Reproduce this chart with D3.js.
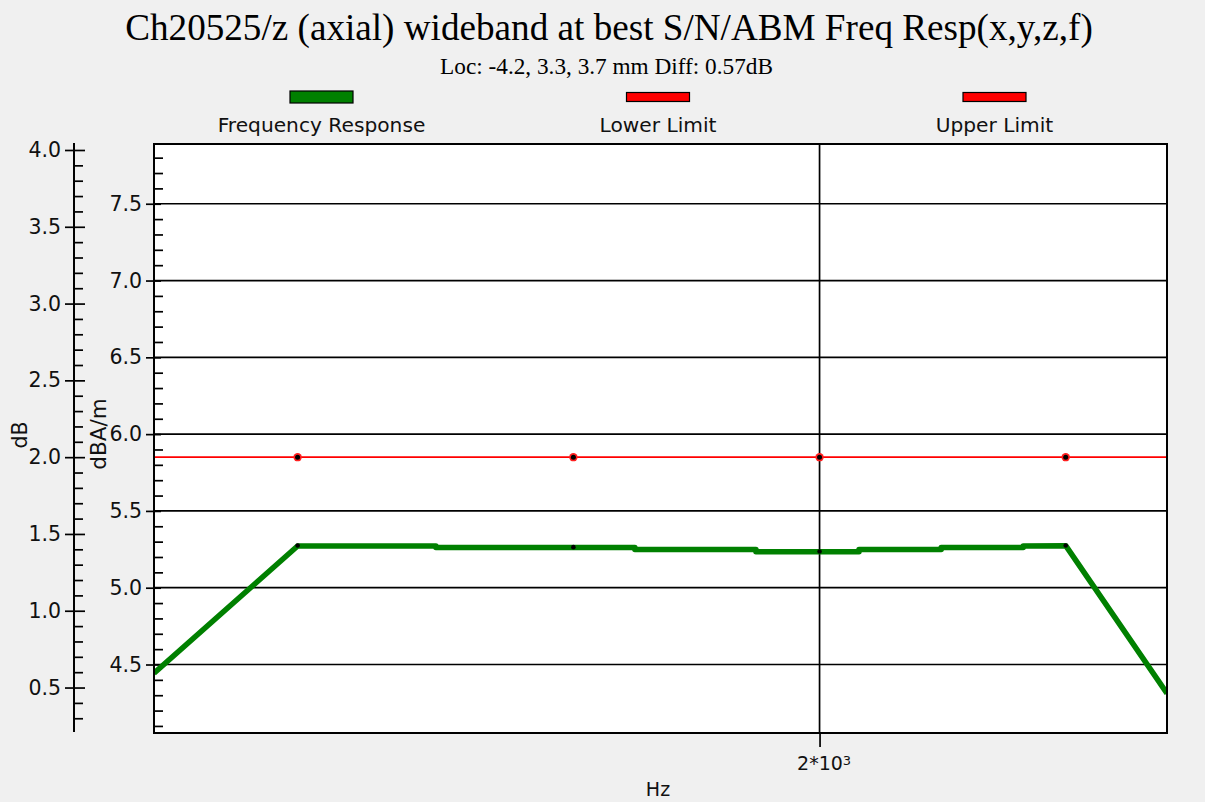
<!DOCTYPE html>
<html><head><meta charset="utf-8">
<script src="https://cdn.jsdelivr.net/npm/d3@7"></script>
<style>body{margin:0;background:#f0f0f0;} svg{display:block}</style>
</head><body><svg id="c" width="1205" height="802"></svg>
<script>
// ---- data ----
const titleText = "Ch20525/z (axial) wideband at best S/N/ABM Freq Resp(x,y,z,f)";
const subtitleText = "Loc: -4.2, 3.3, 3.7 mm Diff: 0.57dB";
const legendLabels = ["Frequency Response", "Lower Limit", "Upper Limit"];
const legendColors = ["#008000", "#ff0000", "#ff0000"];

// Frequency response (Hz, dBA/m)
const respFreq = [307, 460, 679, 679, 1189, 1189, 1672, 1672, 2235, 2235, 2817, 2817, 3549, 3549, 4000, 5320];
const respVal  = [4.443, 5.272, 5.272, 5.262, 5.262, 5.248, 5.248, 5.234, 5.234, 5.248, 5.248, 5.262, 5.262, 5.272, 5.274, 4.312];
// Lower limit (Hz, dBA/m)
const limitFreq = [300, 460, 1000, 2000, 4000, 5400];
const lowerLimitVal = [5.85, 5.85, 5.85, 5.85, 5.85, 5.85];
const markerFreq = [460, 1000, 2000, 4000];
const respMarkerVal = [5.275, 5.264, 5.236, 5.275];

const xTickVals = [2000];
const yInnerMajor = [4.5, 5.0, 5.5, 6.0, 6.5, 7.0, 7.5];
const yOuterMajor = [0.5, 1.0, 1.5, 2.0, 2.5, 3.0, 3.5, 4.0];
const dbOffset = 3.85; // dBA/m - dB

// ---- layout ----
const svg = d3.select("#c");
const L = 154, R = 1167, T = 144, B = 733;
const x = d3.scaleLog().domain([307, 5320]).range([L, R]);
const y = d3.scaleLinear().domain([4.054, 7.889]).range([B, T]);
const yOuter = d3.scaleLinear().domain([4.054 - dbOffset, 7.889 - dbOffset]).range([B, T]);
const sans = "DejaVu Sans";
const txtCol = "#111";

// title
function fitText(sel, width) {
  const w = sel.node().getComputedTextLength();
  const fs = parseFloat(sel.attr("font-size"));
  sel.attr("font-size", fs * width / w);
}
const t = svg.append("text").attr("x", 609).attr("y", 40).attr("text-anchor", "middle")
  .attr("font-family", "Liberation Serif").attr("font-size", 34).attr("fill", "#000").text(titleText);
fitText(t, 968);
const st = svg.append("text").attr("x", 606.5).attr("y", 74).attr("text-anchor", "middle")
  .attr("font-family", "Liberation Serif").attr("font-size", 16).attr("fill", "#000").text(subtitleText);
fitText(st, 333);

// legend
const legCx = [321.5, 658, 994.5];
legendLabels.forEach((lab, i) => {
  const thick = i === 0 ? 12 : 9;
  svg.append("rect").attr("x", legCx[i] - 31.5).attr("y", 97 - thick / 2).attr("width", 63).attr("height", thick)
    .attr("fill", legendColors[i]).attr("stroke", "#000").attr("stroke-width", 1.2);
  svg.append("text").attr("x", legCx[i]).attr("y", 132).attr("text-anchor", "middle")
    .attr("font-family", sans).attr("font-size", 20.2).attr("fill", txtCol).text(lab);
});

// plot area
svg.append("rect").attr("x", L).attr("y", T).attr("width", R - L).attr("height", B - T).attr("fill", "#fff");
svg.append("clipPath").attr("id", "clip").append("rect").attr("x", L).attr("y", T).attr("width", R - L).attr("height", B - T);

// gridlines
svg.append("g").selectAll("line").data(yInnerMajor).join("line")
  .attr("x1", L).attr("x2", R).attr("y1", d => y(d)).attr("y2", d => y(d))
  .attr("stroke", "#000").attr("stroke-width", 1.7);
svg.append("g").selectAll("line").data(xTickVals).join("line")
  .attr("x1", d => x(d)).attr("x2", d => x(d)).attr("y1", T).attr("y2", B)
  .attr("stroke", "#000").attr("stroke-width", 1.7);

// inner (dBA/m) axis
const innerMinor = d3.range(41, 79).map(v => v / 10).filter(v => !yInnerMajor.some(m => Math.abs(m - v) < 1e-6));
function styleAxis(g) {
  g.select(".domain").remove();
  g.selectAll(".tick line").attr("stroke", "#000").attr("stroke-width", 1.7);
  g.selectAll(".tick text").attr("font-family", sans).attr("font-size", 20.5).attr("fill", txtCol);
}
svg.append("g").attr("transform", `translate(${L},0)`)
  .call(d3.axisLeft(y).tickValues(yInnerMajor).tickSize(8).tickPadding(4).tickFormat(d3.format(".1f"))).call(styleAxis);
svg.append("g").attr("transform", `translate(${L},0)`)
  .call(d3.axisRight(y).tickValues(yInnerMajor).tickSize(7).tickFormat("")).call(styleAxis);
svg.append("g").attr("transform", `translate(${L},0)`)
  .call(d3.axisRight(y).tickValues(innerMinor).tickSize(9).tickFormat("")).call(styleAxis);

// outer (dB) axis
const OX = 74;
const outerMinor = d3.range(3, 41).map(v => v / 10).filter(v => !yOuterMajor.some(m => Math.abs(m - v) < 1e-6));
svg.append("line").attr("x1", OX).attr("x2", OX).attr("y1", T - 1).attr("y2", B - 1).attr("stroke", "#000").attr("stroke-width", 2);
svg.append("g").attr("transform", `translate(${OX},0)`)
  .call(d3.axisLeft(yOuter).tickValues(yOuterMajor).tickSize(9).tickPadding(4).tickFormat(d3.format(".1f"))).call(styleAxis);
svg.append("g").attr("transform", `translate(${OX},0)`)
  .call(d3.axisRight(yOuter).tickValues(yOuterMajor).tickSize(11).tickFormat("")).call(styleAxis);
svg.append("g").attr("transform", `translate(${OX},0)`)
  .call(d3.axisRight(yOuter).tickValues(outerMinor).tickSize(9).tickFormat("")).call(styleAxis);

// x axis tick
const xa = svg.append("g").attr("transform", `translate(0,${B})`)
  .call(d3.axisBottom(x).tickValues(xTickVals).tickSize(14).tickPadding(10).tickFormat(() => ""));
xa.select(".domain").remove();
xa.selectAll(".tick line").attr("stroke", "#000").attr("stroke-width", 1.7);
const xt = xa.selectAll(".tick text").attr("font-family", sans).attr("font-size", 19).attr("fill", txtCol)
  .attr("text-anchor", "middle").attr("dx", 4);
xt.append("tspan").text(d => d / 1000 + "*10");
xt.append("tspan").attr("font-size", 13).attr("dy", "-0.45em").text("3");

// axis titles
svg.append("text").attr("transform", "translate(27,435) rotate(-90)").attr("text-anchor", "middle")
  .attr("font-family", sans).attr("font-size", 20.5).attr("fill", txtCol).text("dB");
svg.append("text").attr("transform", "translate(106,434) rotate(-90)").attr("text-anchor", "middle")
  .attr("font-family", sans).attr("font-size", 21.5).attr("fill", txtCol).text("dBA/m");
svg.append("text").attr("x", 658).attr("y", 796).attr("text-anchor", "middle")
  .attr("font-family", sans).attr("font-size", 19).attr("fill", txtCol).text("Hz");

// data
const plot = svg.append("g").attr("clip-path", "url(#clip)");
const line = d3.line().x(d => x(d[0])).y(d => y(d[1]));
plot.append("path").datum(limitFreq.map((f, i) => [f, lowerLimitVal[i]])).attr("d", line)
  .attr("fill", "none").attr("stroke", "#ff0000").attr("stroke-width", 1.6);
plot.append("path").datum(respFreq.map((f, i) => [f, respVal[i]])).attr("d", line)
  .attr("fill", "none").attr("stroke", "#008000").attr("stroke-width", 5.5).attr("stroke-linejoin", "round");
plot.selectAll(".lm").data(markerFreq).join("circle").attr("class", "lm")
  .attr("cx", d => x(d)).attr("cy", y(lowerLimitVal[0])).attr("r", 4.2).attr("fill", "#ff2020");
plot.selectAll(".lmk").data(markerFreq).join("circle").attr("class", "lmk")
  .attr("cx", d => x(d)).attr("cy", y(lowerLimitVal[0])).attr("r", 2.5).attr("fill", "#000");
plot.selectAll(".rm").data(markerFreq).join("circle").attr("class", "rm")
  .attr("cx", d => x(d)).attr("cy", (d, i) => y(respMarkerVal[i])).attr("r", 2.3).attr("fill", "#000");

// frame
svg.append("rect").attr("x", L).attr("y", T).attr("width", R - L).attr("height", B - T)
  .attr("fill", "none").attr("stroke", "#000").attr("stroke-width", 2);
</script></body></html>
